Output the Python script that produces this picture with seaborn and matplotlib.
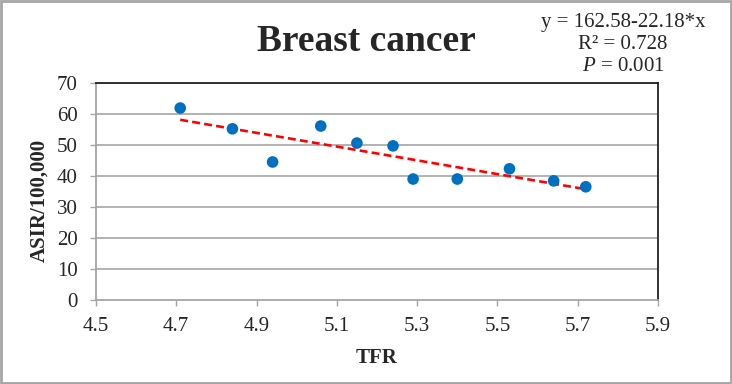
import matplotlib
matplotlib.use('Agg')
import matplotlib.pyplot as plt
import seaborn as sns
import numpy as np
import pandas as pd
from matplotlib.patches import Rectangle

# data
tfr = [4.71, 4.84, 4.94, 5.06, 5.15, 5.24, 5.29, 5.40, 5.53, 5.64, 5.72]
asir = [61.9, 55.2, 44.5, 56.1, 50.6, 49.7, 39.0, 39.0, 42.3, 38.4, 36.5]
intercept = 162.58
slope = -22.18
x_ticks = [4.5, 4.7, 4.9, 5.1, 5.3, 5.5, 5.7, 5.9]
y_ticks = [0, 10, 20, 30, 40, 50, 60, 70]

sns.set_style('white')
plt.rcParams['font.family'] = ['Liberation Serif', 'DejaVu Serif']
plt.rcParams['mathtext.fontset'] = 'custom'
plt.rcParams['mathtext.rm'] = 'Liberation Serif'
plt.rcParams['mathtext.it'] = 'Liberation Serif:italic'

df = pd.DataFrame({'TFR': tfr, 'ASIR': asir})
fit_x = [min(tfr), max(tfr)]
fit_df = pd.DataFrame({'TFR': fit_x, 'ASIR': [intercept + slope * v for v in fit_x]})

fig = plt.figure(figsize=(7.32, 3.84), dpi=100)
ax = fig.add_axes([0.131, 0.219, 0.768, 0.565])

for v in y_ticks[1:]:
    ax.axhline(v, color='#a6a6a6', lw=1.2, zorder=0)

sns.lineplot(data=fit_df, x='TFR', y='ASIR', ax=ax, color='#ff0000',
             lw=1.9, linestyle=(0, (3, 1.6)), zorder=2)
sns.scatterplot(data=df, x='TFR', y='ASIR', ax=ax, color='#0070c0',
                s=70, edgecolor='none', zorder=3)

ax.set_xlim(4.5, 5.9)
ax.set_ylim(0, 70)
ax.set_xticks(x_ticks)
ax.set_yticks(y_ticks)
ax.set_xticklabels([f'{v:.1f}' for v in x_ticks], fontsize=15)
ax.set_yticklabels([str(v) for v in y_ticks], fontsize=15)
ax.tick_params(axis='both', length=4, width=1, color='#a6a6a6',
               bottom=True, left=True)
ax.tick_params(axis='x', pad=8)
ax.tick_params(axis='y', pad=9)
ax.set_xlabel('TFR', fontsize=15, fontweight='bold', labelpad=9)
ax.set_ylabel('ASIR/100,000', fontsize=15, fontweight='bold')
ax.yaxis.set_label_coords(-0.082, 0.46)

ax.spines['left'].set_color('#a6a6a6')
ax.spines['bottom'].set_color('#a6a6a6')
ax.spines['top'].set_color('#222222')
ax.spines['right'].set_color('#222222')
for s in ax.spines.values():
    s.set_linewidth(1.3)

fig.text(0.5, 0.893, 'Breast cancer', ha='center', va='center',
         fontsize=27, fontweight='bold')
fig.text(0.851, 0.942, 'y = 162.58-22.18*x', ha='center', va='center', fontsize=15)
fig.text(0.851, 0.884, 'R² = 0.728', ha='center', va='center', fontsize=15)
fig.text(0.851, 0.826, r'$P$ = 0.001', ha='center', va='center', fontsize=15)

fig.add_artist(Rectangle((0.002, 0.003), 0.996, 0.994, transform=fig.transFigure,
                         fill=False, edgecolor='#a6a6a6', lw=2))

fig.savefig('out.png', dpi=100)
